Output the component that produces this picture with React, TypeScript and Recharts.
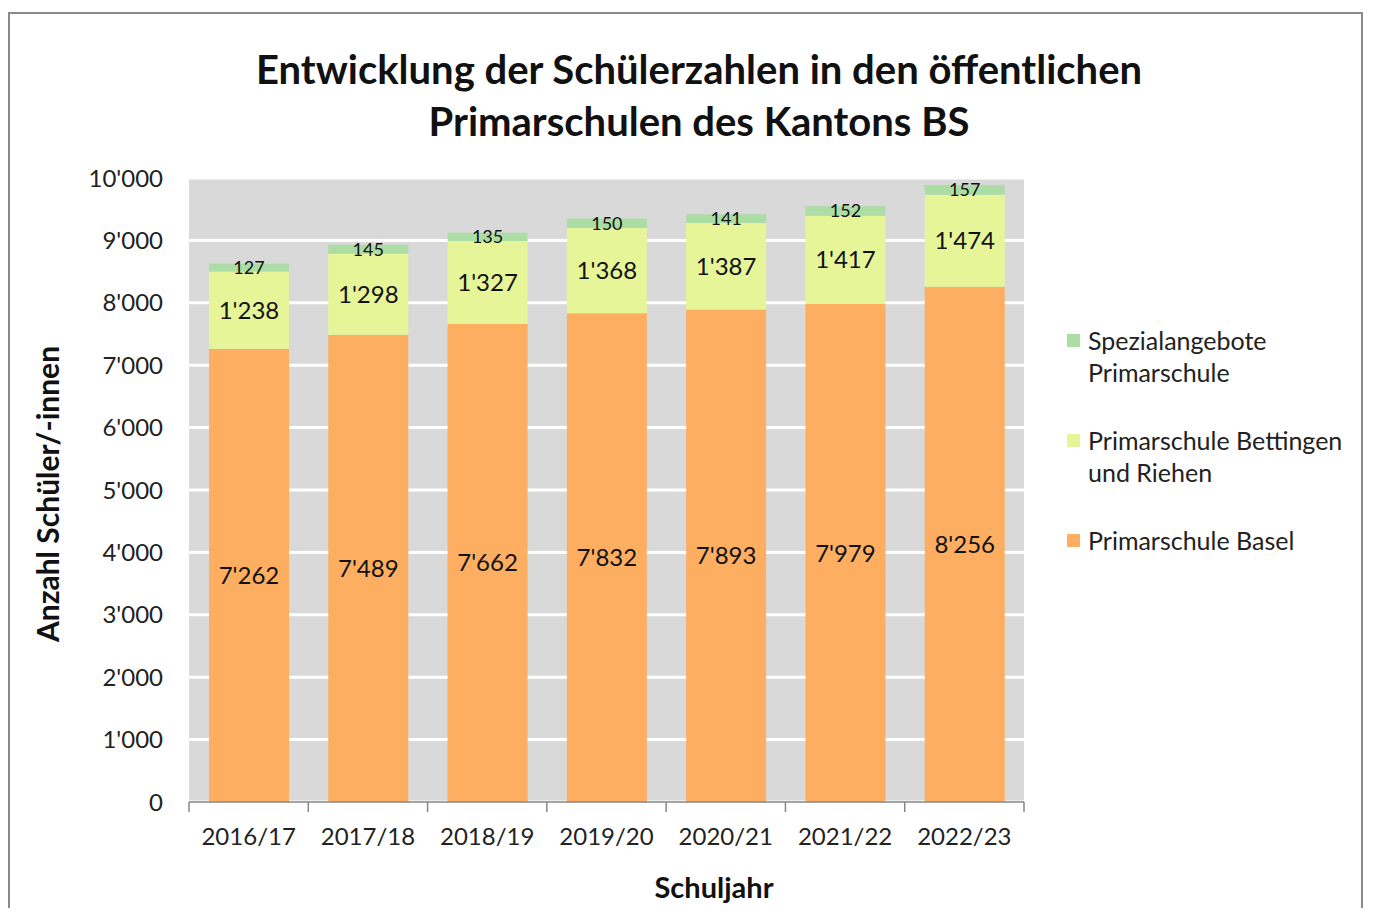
import React from "react";
import { BarChart, Bar, XAxis, YAxis, CartesianGrid, LabelList, Legend } from "recharts";

const CATEGORIES = ["2016/17", "2017/18", "2018/19", "2019/20", "2020/21", "2021/22", "2022/23"];
const BASEL = [7262, 7489, 7662, 7832, 7893, 7979, 8256];
const BETTINGEN = [1238, 1298, 1327, 1368, 1387, 1417, 1474];
const SPEZIAL = [127, 145, 135, 150, 141, 152, 157];
const Y_TICKS = [0, 1000, 2000, 3000, 4000, 5000, 6000, 7000, 8000, 9000, 10000];

const SERIES_NAMES = {
  basel: "Primarschule Basel",
  bettingen: "Primarschule Bettingen\nund Riehen",
  spezial: "Spezialangebote\nPrimarschule",
};
const COLORS = { basel: "#FDAE61", bettingen: "#E6F598", spezial: "#ABDDA4" };

const data = CATEGORIES.map((c, i) => ({
  year: c,
  basel: BASEL[i],
  bettingen: BETTINGEN[i],
  spezial: SPEZIAL[i],
}));

const FONT = "Lato, 'Open Sans', sans-serif";
const CHART_W = 1357;
const CHART_H = 900;
const MARGIN = { top: 170, right: 341, left: 81, bottom: 46 };
const Y_AXIS_W = 100;
const PLOT_W = CHART_W - MARGIN.left - MARGIN.right - Y_AXIS_W;
const BAND = PLOT_W / CATEGORIES.length;

const fmt = (v: any) => String(v).replace(/\B(?=(\d{3})+(?!\d))/g, "'");

const XTick = (props: any) => {
  const { x, y, payload, index } = props;
  const half = BAND / 2;
  return (
    <g>
      <line x1={x - half} x2={x - half} y1={y} y2={y + 10} stroke="#868686" strokeWidth={1.5} />
      {index === CATEGORIES.length - 1 && (
        <line x1={x + half} x2={x + half} y1={y} y2={y + 10} stroke="#868686" strokeWidth={1.5} />
      )}
      <text x={x} y={y + 43} textAnchor="middle" fontFamily={FONT} fontSize={24} fill="#222">
        {payload.value}
      </text>
    </g>
  );
};

const LegendContent = (props: any) => {
  const items = [...(props.payload || [])].reverse();
  return (
    <div style={{ fontFamily: FONT, fontSize: 25, color: "#222", textAlign: "left" }}>
      {items.map((it: any, i: number) => (
        <div key={i} style={{ display: "flex", alignItems: "flex-start", marginBottom: 36 }}>
          <div
            style={{
              width: 13,
              height: 13,
              background: it.color,
              marginTop: 10,
              marginRight: 8,
              flex: "none",
            }}
          />
          <div style={{ whiteSpace: "pre-line", lineHeight: "32px" }}>{it.value}</div>
        </div>
      ))}
    </div>
  );
};

export default function App() {
  return (
    <div style={{ position: "relative", width: 1357, height: 900 }}>
      <div
        style={{
          position: "absolute",
          left: 0,
          top: 4,
          width: 1355,
          height: 910,
          borderTop: "2px solid #8a8a8a",
          borderLeft: "2px solid #8a8a8a",
          borderRight: "2px solid #8a8a8a",
          boxSizing: "border-box",
        }}
      />
      <div
        style={{
          position: "absolute",
          left: 0,
          top: 35,
          width: 1382,
          textAlign: "center",
          fontFamily: FONT,
          fontWeight: 700,
          fontSize: 40,
          lineHeight: "52px",
          color: "#111",
        }}
      >
        Entwicklung der Schülerzahlen in den öffentlichen
        <br />
        Primarschulen des Kantons BS
      </div>
      <div
        style={{
          position: "absolute",
          left: 39,
          top: 486,
          transform: "translate(-50%, -50%) rotate(-90deg)",
          whiteSpace: "nowrap",
          fontFamily: FONT,
          fontWeight: 700,
          fontSize: 30,
          color: "#111",
        }}
      >
        Anzahl Schüler/-innen
      </div>
      <div
        style={{
          position: "absolute",
          left: 706,
          top: 878,
          transform: "translate(-50%, -50%)",
          whiteSpace: "nowrap",
          fontFamily: FONT,
          fontWeight: 700,
          fontSize: 29,
          color: "#111",
        }}
      >
        Schuljahr
      </div>
      <div style={{ position: "absolute", left: 0, top: 0 }}>
        <BarChart width={CHART_W} height={CHART_H} data={data} margin={MARGIN} barSize={80}>
          <CartesianGrid vertical={false} stroke="#ffffff" strokeWidth={3} fill="#D9D9D9" />
          <XAxis
            dataKey="year"
            tick={<XTick />}
            tickLine={false}
            tickSize={0}
            tickMargin={0}
            axisLine={{ stroke: "#868686", strokeWidth: 1.5 }}
            height={60}
            interval={0}
          />
          <YAxis
            domain={[0, 10000]}
            ticks={Y_TICKS}
            tickFormatter={fmt}
            width={Y_AXIS_W}
            axisLine={false}
            tickLine={false}
            tickSize={0}
            tickMargin={26}
            tick={{ fontFamily: FONT, fontSize: 24, fill: "#222" }}
            interval={0}
          />
          <Legend
            layout="vertical"
            align="center"
            verticalAlign="middle"
            content={<LegendContent />}
            wrapperStyle={{ position: "absolute", left: 1059, top: 316, width: 290 }}
          />
          <Bar dataKey="basel" name={SERIES_NAMES.basel} stackId="a" fill={COLORS.basel} isAnimationActive={false}>
            <LabelList dataKey="basel" position="center" formatter={fmt} fontFamily={FONT} fontSize={24} fill="#111" />
          </Bar>
          <Bar dataKey="bettingen" name={SERIES_NAMES.bettingen} stackId="a" fill={COLORS.bettingen} isAnimationActive={false}>
            <LabelList dataKey="bettingen" position="center" formatter={fmt} fontFamily={FONT} fontSize={24} fill="#111" />
          </Bar>
          <Bar dataKey="spezial" name={SERIES_NAMES.spezial} stackId="a" fill={COLORS.spezial} isAnimationActive={false}>
            <LabelList dataKey="spezial" position="center" formatter={fmt} fontFamily={FONT} fontSize={18} fill="#111" />
          </Bar>
        </BarChart>
      </div>
    </div>
  );
}
